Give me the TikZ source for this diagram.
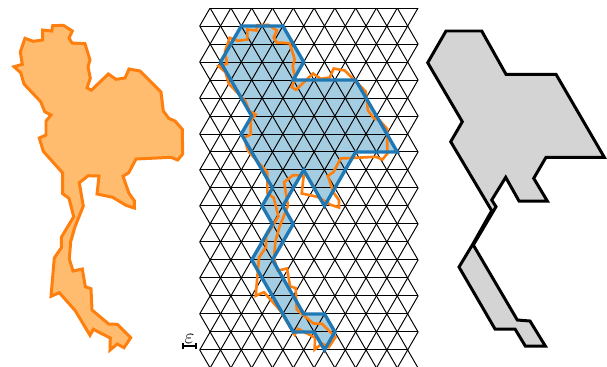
\documentclass[tikz,border=0pt]{standalone}
\usetikzlibrary{arrows.meta}
\definecolor{tabblue}{HTML}{1F77B4}
\definecolor{taborange}{HTML}{FF7F0E}
\definecolor{bluefill}{HTML}{A5CDE1}
\definecolor{orangefill}{HTML}{FFBB6E}
\tikzset{
  outline/.style={taborange,line width=1.7pt,line join=miter},
  snapped/.style={tabblue,line width=1.9pt,line join=miter},
  gridline/.style={black,line width=0.55pt},
}
% country border, in pixels of the left panel
\newcommand{\countrypath}{(52.7,25.7) -- (63.3,25.3) -- (72.3,31) -- (69,38) -- (72,43) -- (85,43.7)
  -- (90,60) -- (88,66.7) -- (90.3,78.3) -- (87,87.7) -- (91.3,90.3) -- (108.3,74) -- (116,79.3)
  -- (125,78) -- (129,69) -- (140,71) -- (161,92) -- (163.3,111) -- (168.7,118.3) -- (175,121)
  -- (182.3,129.3) -- (182.7,154) -- (177.7,160) -- (171,157.3) -- (136,159) -- (128.7,172.7)
  -- (123,176.3) -- (129,193.3) -- (134.3,200.7) -- (134.3,208) -- (126,205.3) -- (112.7,197.3)
  -- (97,194) -- (99,176) -- (88.3,175.7) -- (79.3,182.7) -- (83.3,206) -- (75,226.7) -- (70.7,241.7)
  -- (69.3,259) -- (73,271) -- (82.3,269) -- (85.3,286.7) -- (91,288.7) -- (92,310) -- (108.7,324)
  -- (117.3,324.3) -- (130.7,337.7) -- (124,347.7) -- (117.3,344) -- (110,350) -- (110.3,338)
  -- (93.3,329.3) -- (90,335.3) -- (75.3,310.7) -- (59.3,292.7) -- (51,296.3) -- (54.3,258)
  -- (61.3,247.7) -- (61.3,237.3) -- (73.7,216.7) -- (69,198.3) -- (62.7,193.7) -- (62.7,173)
  -- (43.3,151.3) -- (39.3,138) -- (46,135) -- (46,121) -- (51,115) -- (44.7,111.7) -- (40.7,101.7)
  -- (24,84) -- (20.7,72.7) -- (14,66.7) -- (22.3,64.3) -- (20.3,52) -- (25,38.3) -- (33.3,41.3)
  -- (42.7,40) -- (42.7,30) -- (51.7,31) -- cycle}
% same border pushed onto the triangle lattice
\newcommand{\latticepath}{(4,1) -- (8,1) -- (10,3) -- (9,4) -- (15,4) -- (19,8) -- (15,8) -- (13,10)
  -- (12,11) -- (10,9) -- (9,10) -- (8,11) -- (9,12) -- (7,14) -- (10,17) -- (12,17) -- (13,18)
  -- (12,19) -- (11,18) -- (9,18) -- (5,14) -- (7,12) -- (6,11) -- (7,10) -- (4,7) -- (5,6)
  -- (2,3) -- cycle}
\begin{document}
\begin{tikzpicture}[x=0.02cm,y=-0.02cm]
    \useasboundingbox (0,0) rectangle (607,366);

    \draw[outline,fill=orangefill] \countrypath;

    \begin{scope}[shift={(199.7,8)},x=0.208cm,y=-0.36cm]
        \fill[bluefill] \latticepath;
    \end{scope}

    \begin{scope}
        \clip (190,8) rectangle (430,366);
        \begin{scope}[shift={(199.7,8)},x=0.208cm,y=-0.36cm]
            \foreach \j in {0,2,...,18} \draw[gridline] (1,\j) -- (21,\j);
            \foreach \j in {1,3,...,19} \draw[gridline] (0,\j) -- (20,\j);
            \foreach \m in {1,3,...,21}
                \foreach \j in {0,2,...,20}
                    \draw[gridline] (\m-1,\j-1) -- (\m,\j) -- (\m-1,\j+1);
            \foreach \m in {1,3,...,19}
                \foreach \j in {0,2,...,20}
                    \draw[gridline] (\m+1,\j-1) -- (\m,\j) -- (\m+1,\j+1);
        \end{scope}
    \end{scope}

    \begin{scope}[shift={(204.7,-0.5)}]
        \draw[outline,line width=1.5pt] \countrypath;
    \end{scope}
    \begin{scope}[shift={(199.7,8)},x=0.208cm,y=-0.36cm]
        \draw[snapped] \latticepath;
    \end{scope}

    % scale bar
    \coordinate (barleft) at (182,346);
    \coordinate (barright) at (197,346);
    \draw[{|[width=3.5pt]}-{|[width=3.5pt]},line width=1pt] (barleft) -- (barright);
    \node[inner sep=0pt,scale=1.2] (eps) at (189.5,338.5) {$\varepsilon$};

    % contracted shape
    \draw[black,line width=1.7pt,line join=miter,fill=black!17]
        (446,31) -- (481.7,31) -- (506,74.3) -- (556,74.3) -- (604.3,157.3) -- (546,157.3)
        -- (533.7,178.3) -- (547.3,201) -- (519,201) -- (505.7,177.3) -- (491.7,200)
        -- (496,206.7) -- (473.3,245) -- (517.3,320) -- (530,321) -- (545.3,346) -- (525.3,346)
        -- (515,329) -- (495,329) -- (459,267) -- (472.3,245) -- (491.7,210.7) -- (450.7,141.7)
        -- (462.3,121.7) -- (427.7,62.7) -- cycle;
\end{tikzpicture}
\end{document}
